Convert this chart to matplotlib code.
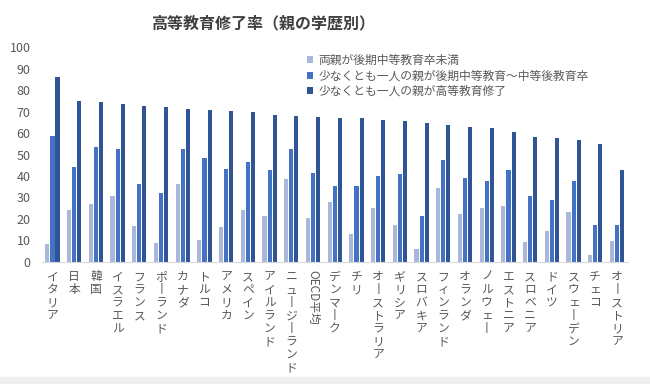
import numpy as np
import matplotlib
matplotlib.use('Agg')
import matplotlib.pyplot as plt
from matplotlib.patches import Rectangle

plt.rcParams['font.family'] = ['Noto Sans CJK JP', 'DejaVu Sans']

countries = ['イタリア', '日本', '韓国', 'イスラエル', 'フランス', 'ポーランド', 'カナダ', 'トルコ',
             'アメリカ', 'スペイン', 'アイルランド', 'ニュージーランド', 'OECD平均', 'デンマーク', 'チリ',
             'オーストラリア', 'ギリシア', 'スロバキア', 'フィンランド', 'オランダ', 'ノルウェー',
             'エストニア', 'スロベニア', 'ドイツ', 'スウェーデン', 'チェコ', 'オーストリア']

# 両親が後期中等教育卒未満
below_upper_sec = [8.2, 24.0, 26.9, 30.8, 16.8, 8.9, 36.5, 10.1, 16.3, 24.0, 21.2, 38.7, 20.5,
                   27.7, 13.1, 25.2, 17.3, 5.8, 34.5, 22.4, 24.9, 26.1, 9.2, 14.3, 23.2, 3.0, 9.6]
# 少なくとも一人の親が後期中等教育～中等後教育卒
upper_sec = [58.6, 44.3, 53.3, 52.7, 36.5, 31.9, 52.4, 48.5, 43.1, 46.5, 42.6, 52.4, 41.2,
             35.5, 35.5, 39.8, 40.9, 21.5, 47.4, 38.9, 37.5, 42.8, 30.5, 28.6, 37.5, 17.3, 17.3]
# 少なくとも一人の親が高等教育修了
tertiary = [86.3, 74.8, 74.3, 73.6, 72.6, 72.2, 71.4, 70.9, 70.3, 69.7, 68.4, 68.0, 67.7,
            67.0, 67.0, 65.9, 65.6, 64.7, 63.8, 63.0, 62.5, 60.3, 58.3, 57.5, 56.8, 54.9, 42.8]

series_names = ['両親が後期中等教育卒未満',
                '少なくとも一人の親が後期中等教育～中等後教育卒',
                '少なくとも一人の親が高等教育修了']
colors = ['#A9B7DB', '#4472C4', '#2F5597']

fig = plt.figure(figsize=(6.5, 3.84), dpi=100)
ax = fig.add_axes([0.064, 0.318, 0.902, 0.559])

x = np.arange(len(countries))
w = 0.19
step = 0.235
for i, (vals, name, c) in enumerate(zip([below_upper_sec, upper_sec, tertiary], series_names, colors)):
    ax.bar(x + (i - 1) * step, vals, width=w, color=c, label=name)

ax.set_xlim(-0.5, len(countries) - 0.5)
ax.set_ylim(0, 100)
ax.set_yticks(range(0, 101, 10))
ax.tick_params(axis='y', length=0, labelsize=9, labelcolor='#595959', pad=8)
ax.tick_params(axis='x', length=0, pad=6)

def vertical(s):
    # 縦書き: 長音記号は縦棒にする
    return '\n'.join('丨' if ch == 'ー' else ch for ch in s)

ax.set_xticks(x)
labels = ax.set_xticklabels([vertical(c) if c != 'OECD平均' else c for c in countries],
                            fontsize=8.5, color='#595959', linespacing=1.0, va='top')
for lab, c in zip(labels, countries):
    if c == 'OECD平均':
        lab.set_rotation(270)

for s in ['top', 'right', 'left']:
    ax.spines[s].set_visible(False)
ax.spines['bottom'].set_color('#D9D9D9')

fig.text(0.405, 0.94, '高等教育修了率（親の学歴別）', fontsize=11.5, fontweight='bold',
         color='#404040', ha='center', va='center')

ax.legend(loc='upper left', bbox_to_anchor=(0.465, 0.872), bbox_transform=fig.transFigure,
          frameon=False, fontsize=8.5, labelcolor='#595959', handlelength=0.55, handleheight=0.55,
          handletextpad=0.4, labelspacing=0.2, borderaxespad=0)

fig.patches.append(Rectangle((0, 0), 1, 0.018, transform=fig.transFigure, color='#EEEEEE', zorder=-1))

fig.savefig('out.png', dpi=100)
